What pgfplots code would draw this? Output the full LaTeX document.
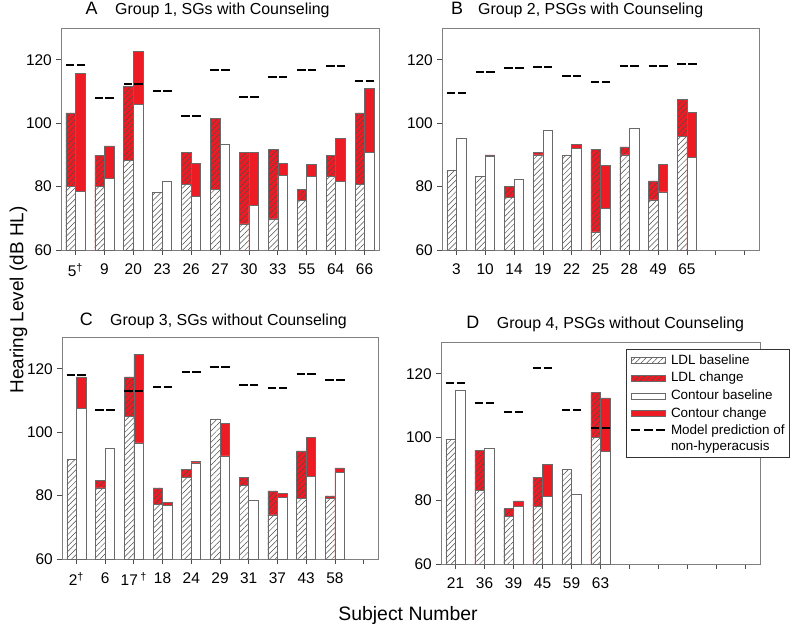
\documentclass[border=0pt]{standalone}
\usepackage{fontspec}
\setmainfont{Liberation Sans}
\usepackage{pgfplots}
\pgfplotsset{compat=1.18}
\usepackage{pgfplotstable}
\usetikzlibrary{patterns.meta}

\definecolor{myred}{RGB}{237,28,36}
\definecolor{bardraw}{RGB}{105,105,105}
\definecolor{framegray}{RGB}{128,128,128}

\pgfdeclareplotmark{mdash}{%
  \pgfpathmoveto{\pgfqpoint{-9.6bp}{0bp}}%
  \pgfpathlineto{\pgfqpoint{9.6bp}{0bp}}%
  \pgfusepathqstroke}

\pgfplotsset{
  panel/.style={
    scale only axis, width=318bp, height=222bp,
    xmin=-0.5, xmax=10.5, ymin=60, ymax=130,
    xtick={0,...,10}, ytick={60,80,100,120},
    tick pos=left, tick align=outside, major tick length=5bp,
    axis line style={draw=framegray, line width=0.8bp},
    every tick/.style={black!70, line width=0.7bp},
    tick label style={font=\fontsize{15.5}{18}\selectfont},
    yticklabel style={inner xsep=4bp},
    xticklabel style={yshift=-5bp},
    /pgf/number format/assume math mode=true,
  },
  hatch/.style={postaction={pattern={Lines[angle=45,distance=4bp,line width=0.5bp]}, pattern color=black!70}},
  ldltot/.style={ybar, bar width=0.33, bar shift=-0.165, fill=myred, draw=bardraw, line width=0.6bp, hatch, forget plot},
  ldlbase/.style={ybar, bar width=0.33, bar shift=-0.165, fill=white, draw=bardraw, line width=0.6bp, hatch, forget plot},
  contot/.style={ybar, bar width=0.33, bar shift=0.165, fill=myred, draw=bardraw, line width=0.6bp, forget plot},
  conbase/.style={ybar, bar width=0.33, bar shift=0.165, fill=white, draw=bardraw, line width=0.6bp, forget plot},
  model/.style={only marks, mark=mdash, mark options={black, line width=2bp, dash pattern=on 8.5bp off 2.2bp}, forget plot},
  rect legend/.style={legend image code/.code={\draw[##1] (0bp,-3bp) rectangle (34bp,3bp);}},
  dash legend/.style={legend image code/.code={\draw[##1] (0bp,8.4bp) -- (34bp,8.4bp);}},
}

% columns: x, LDL baseline, LDL after, contour baseline, contour after, model prediction
\pgfplotstableread{
x ldlB ldlT conB conT model
0 80.0 103.2 78.6 115.6 118.2
1 80.0 89.8 82.5 92.8 108.0
2 88.3 111.7 105.8 122.5 112.3
3 78.2 nan 81.6 nan 110.1
4 80.8 90.8 77.0 87.4 102.4
5 79.0 101.6 93.3 nan 116.8
6 68.2 90.8 74.0 90.8 108.4
7 69.8 91.6 83.6 87.4 114.6
8 75.6 79.0 83.3 86.9 116.8
9 83.3 89.8 81.6 95.1 118.0
10 80.8 103.2 90.8 110.9 113.2
}\tabA

\pgfplotstableread{
x ldlB ldlT conB conT model
0 85.0 nan 95.2 nan 109.4
1 83.3 nan 89.4 90.0 116.1
2 76.6 80.0 82.2 nan 117.3
3 90.0 90.9 97.9 nan 117.6
4 90.0 nan 92.1 93.2 114.8
5 65.7 91.6 73.2 86.6 112.9
6 90.0 92.5 98.4 nan 118.1
7 75.8 81.8 78.3 87.0 117.9
8 95.8 107.5 89.1 103.3 118.5
}\tabB

\pgfplotstableread{
x ldlB ldlT conB conT model
0 91.5 nan 107.4 117.4 118.1
1 82.4 84.9 95.0 nan 107.1
2 105.0 117.4 96.6 124.6 112.9
3 77.2 82.4 76.9 77.9 114.1
4 85.7 88.3 90.3 90.7 118.9
5 104.2 nan 92.5 102.8 120.7
6 83.2 85.7 78.6 nan 114.8
7 73.9 81.5 79.4 80.7 113.9
8 79.0 94.1 86.1 98.3 118.3
9 79.0 79.9 87.3 88.7 116.5
}\tabC

\pgfplotstableread{
x ldlB ldlT conB conT model
0 99.2 nan 114.9 nan 117.1
1 83.2 95.8 96.6 nan 110.7
2 74.9 77.5 78.2 79.9 108.0
3 78.1 87.4 81.2 91.5 121.8
4 89.9 nan 82.0 nan 108.6
5 100.0 114.0 95.6 112.4 102.8
}\tabD

\newcommand{\panelplots}[1]{%
  \addplot[ldltot] table[x=x, y=ldlT] {#1};
  \addplot[ldlbase] table[x=x, y=ldlB] {#1};
  \addplot[contot] table[x=x, y=conT] {#1};
  \addplot[conbase] table[x=x, y=conB] {#1};
  \addplot[model] table[x=x, y=model] {#1};
}

\begin{document}
\begin{tikzpicture}
\path[use as bounding box] (0,0) rectangle (800bp,-625bp);

% panel A
\begin{axis}[panel, at={(61bp,-250bp)}, anchor=south west,
  xticklabels={5\textsuperscript{†},9,20,23,26,27,30,33,55,64,66}]
\panelplots{\tabA}
\end{axis}

% panel B
\begin{axis}[panel, at={(442bp,-250bp)}, anchor=south west, width=317bp,
  xticklabels={3,10,14,19,22,25,28,49,65,,}]
\panelplots{\tabB}
\end{axis}

% panel C
\begin{axis}[panel, at={(62bp,-559bp)}, anchor=south west, width=316bp,
  xticklabels={2\textsuperscript{†},6,17\,\textsuperscript{†},18,24,29,31,37,43,58,}]
\panelplots{\tabC}
\end{axis}

% panel D
\begin{axis}[panel, at={(441bp,-564bp)}, anchor=south west, width=319bp,
  xticklabels={21,36,39,45,59,63,,,,,},
  legend cell align=left,
  legend style={at={(0.579,0.968)}, anchor=north west, draw=black!80, line width=0.6bp,
    font=\fontsize{13.5}{16.4}\selectfont, inner xsep=4bp, inner ysep=4bp,
    row sep=3.2bp, column sep=4bp,
    nodes={inner sep=1bp}}]
\panelplots{\tabD}
\addlegendimage{rect legend, fill=white, draw=bardraw, line width=0.6bp, hatch}
\addlegendentry[text height=9.8bp, text depth=2.6bp]{LDL baseline}
\addlegendimage{rect legend, fill=myred, draw=bardraw, line width=0.6bp, hatch}
\addlegendentry[text height=9.8bp, text depth=2.6bp]{LDL change}
\addlegendimage{rect legend, fill=white, draw=bardraw, line width=0.6bp}
\addlegendentry[text height=9.8bp, text depth=2.6bp]{Contour baseline}
\addlegendimage{rect legend, fill=myred, draw=bardraw, line width=0.6bp}
\addlegendentry[text height=9.8bp, text depth=2.6bp]{Contour change}
\addlegendimage{dash legend, black, line width=2bp, dash pattern=on 9bp off 3.5bp}
\addlegendentry[align=left]{Model prediction of\\non-hyperacusis}
\end{axis}

% titles and shared labels
\node[anchor=base, font=\fontsize{18}{21}\selectfont] at (91.5bp,-14.3bp) {A};
\node[anchor=base west, inner sep=0pt, font=\fontsize{16}{19}\selectfont] at (115bp,-14.3bp) {Group 1, SGs with Counseling};
\node[anchor=base, font=\fontsize{18}{21}\selectfont] at (457bp,-14.3bp) {B};
\node[anchor=base west, inner sep=0pt, font=\fontsize{16}{19}\selectfont] at (478bp,-14.3bp) {Group 2, PSGs with Counseling};
\node[anchor=base, font=\fontsize{18}{21}\selectfont] at (86.3bp,-325bp) {C};
\node[anchor=base west, inner sep=0pt, font=\fontsize{16}{19}\selectfont] at (110bp,-325bp) {Group 3, SGs without Counseling};
\node[anchor=base, font=\fontsize{18}{21}\selectfont] at (472.8bp,-328.3bp) {D};
\node[anchor=base west, inner sep=0pt, font=\fontsize{16}{19}\selectfont] at (496.7bp,-328.3bp) {Group 4, PSGs without Counseling};
\node[rotate=90, font=\fontsize{19}{22}\selectfont] at (18.5bp,-300bp) {Hearing Level (dB HL)};
\node[anchor=base, font=\fontsize{19.5}{22}\selectfont] at (408bp,-620bp) {Subject Number};
\end{tikzpicture}
\end{document}
